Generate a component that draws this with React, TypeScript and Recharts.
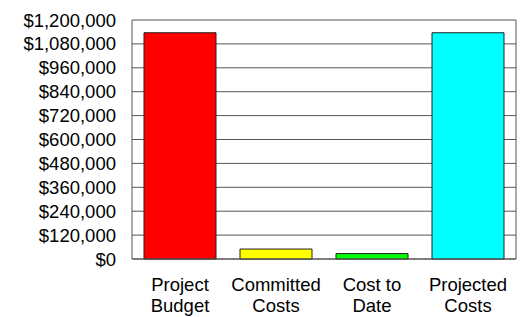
import { BarChart, Bar, XAxis, YAxis, CartesianGrid, Cell, ReferenceLine } from "recharts";

const categories = ["Project Budget", "Committed Costs", "Cost to Date", "Projected Costs"];
const amounts = [1136000, 50000, 27000, 1136000];
const barColors = ["#ff0000", "#ffff00", "#00ff00", "#00ffff"];
const yTicks = [0, 120000, 240000, 360000, 480000, 600000, 720000, 840000, 960000, 1080000, 1200000];

const data = categories.map((name, i) => ({ name, value: amounts[i] }));

const FONT = "'Liberation Sans', Arial, sans-serif";

function money(v: number) {
  return "$" + v.toLocaleString("en-US");
}

function CategoryTick({ x, y, payload }: any) {
  // split the label into two lines like the original
  const words = String(payload.value).split(" ");
  const first = words.length > 2 ? words.slice(0, 2).join(" ") : words[0];
  const second = words.length > 2 ? words.slice(2).join(" ") : words.slice(1).join(" ");
  return (
    <text textAnchor="middle" fontFamily={FONT} fontSize={18.5} fill="#000">
      <tspan x={x} y={y + 32}>{first}</tspan>
      <tspan x={x} y={y + 53}>{second}</tspan>
    </text>
  );
}

export default function App() {
  return (
    <div style={{ position: "absolute", left: 0, top: 0 }}>
      <BarChart
        width={525}
        height={317}
        data={data}
        margin={{ top: 20, right: 9, left: 0, bottom: 0 }}
        barCategoryGap="12.5%"
      >
        <CartesianGrid vertical={false} stroke="#555" strokeWidth={1} />
        <XAxis
          dataKey="name"
          height={58}
          tickSize={0}
          tickMargin={0}
          interval={0}
          axisLine={{ stroke: "#555" }}
          tick={<CategoryTick />}
        />
        <YAxis
          width={132}
          domain={[0, 1200000]}
          ticks={yTicks}
          tickFormatter={money}
          tickSize={0}
          tickMargin={16}
          axisLine={{ stroke: "#555" }}
          tick={{ fontFamily: FONT, fontSize: 18.5, fill: "#000" }}
          interval={0}
        />
        {/* right frame edge */}
        <ReferenceLine x={categories[categories.length - 1]} position="end" stroke="#555" />
        <Bar dataKey="value" stroke="#222" strokeWidth={1} isAnimationActive={false}>
          {data.map((d, i) => (
            <Cell key={d.name} fill={barColors[i]} />
          ))}
        </Bar>
      </BarChart>
    </div>
  );
}
